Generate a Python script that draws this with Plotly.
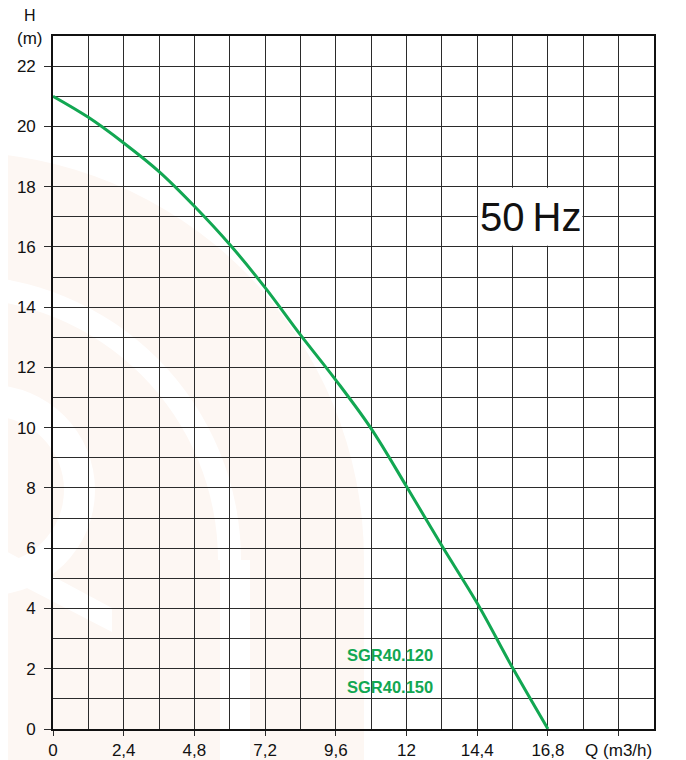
import plotly.graph_objects as go

# ---- data ----
flow_q = [0, 1.2, 2.4, 3.6, 4.8, 6.0, 7.2, 8.4, 9.6, 10.8, 12.0, 13.2, 14.4, 15.6, 16.8]
head_h = [21.0, 20.3, 19.45, 18.5, 17.35, 16.08, 14.65, 13.08, 11.58, 9.97, 8.05, 6.08, 4.17, 2.03, 0.0]

x_tick_vals = [0, 2.4, 4.8, 7.2, 9.6, 12, 14.4, 16.8, 19.2]
x_tick_text = ["0", "2,4", "4,8", "7,2", "9,6", "12", "14,4", "16,8", "Q (m3/h)"]
y_tick_vals = [0, 2, 4, 6, 8, 10, 12, 14, 16, 18, 20, 22]
y_tick_text = [str(v) for v in y_tick_vals]
model_labels = ["SGR40.120", "SGR40.150"]
freq_label = "50\u2009Hz"

GREEN = "#12a752"
GRID = "#2b2b2b"
BEIGE = "#fdf7f3"

# page has an 8px body margin; plot area in page pixels: x 53..654, y 36..729
OFF = 8
W_PX, H_PX = 686 - OFF, 760 - OFF
PL, PR, PT, PB = 53, 654, 36, 729
ML, MT = PL - OFF, PT - OFF
MR = W_PX - (PR - OFF)
MB = H_PX - (PB - OFF)
PW, PH = PR - PL, PB - PT


def px(x):
    return (x - PL) / PW


def py(y):
    return (PB - y) / PH


def circ(cx, cy, r, color):
    return dict(type="circle", xref="paper", yref="paper", layer="below",
                x0=px(cx - r), x1=px(cx + r), y0=py(cy + r), y1=py(cy - r),
                fillcolor=color, line=dict(width=0))


def rect(x0, y0, x1, y1, color):
    return dict(type="rect", xref="paper", yref="paper", layer="below",
                x0=px(x0), x1=px(x1), y0=py(y1), y1=py(y0),
                fillcolor=color, line=dict(width=0))


def poly(points, color):
    path = "M " + " L ".join(f"{px(a)},{py(b)}" for a, b in points) + " Z"
    return dict(type="path", xref="paper", yref="paper", layer="below",
                path=path, fillcolor=color, line=dict(width=0))


shapes = []
# faint watermark logo (decoration)
shapes += [circ(-44, 560, 408, BEIGE), rect(-460, 560, 364, 760, BEIGE)]
shapes += [circ(-44, 560, 285, "white"), rect(-340, 560, 250, 760, "white")]
shapes += [circ(-44, 560, 262, BEIGE), rect(-320, 560, 220, 760, BEIGE)]
shapes += [circ(-10, 490, 105, "white"), circ(-10, 490, 74, BEIGE)]
shapes += [poly([(0, 548), (112, 608), (112, 632), (0, 574)], "white")]

# white box behind the 50Hz label
shapes.append(dict(type="rect", xref="x", yref="y", layer="between",
                   x0=14.43, x1=17.97, y0=16.04, y1=17.96,
                   fillcolor="white", line=dict(width=0)))

fig = go.Figure()
fig.add_trace(go.Scatter(
    x=flow_q, y=head_h, mode="lines",
    line=dict(color=GREEN, width=3, shape="spline", smoothing=1.0),
    hoverinfo="skip", showlegend=False,
))

annotations = [
    dict(text="H", xref="paper", yref="paper", x=px(30), y=py(15),
         showarrow=False, font=dict(size=16, color="#111"), xanchor="center", yanchor="middle"),
    dict(text="(m)", xref="paper", yref="paper", x=px(29), y=py(39),
         showarrow=False, font=dict(size=17, color="#111"), xanchor="center", yanchor="middle"),
    dict(text=freq_label, xref="x", yref="y", x=16.2, y=17.0, showarrow=False,
         font=dict(size=40, color="#111"), xanchor="center", yanchor="middle"),
    dict(text=f"<b>{model_labels[0]}</b>", xref="x", yref="y", x=11.44, y=2.46, showarrow=False,
         font=dict(size=16.5, color=GREEN), xanchor="center", yanchor="middle"),
    dict(text=f"<b>{model_labels[1]}</b>", xref="x", yref="y", x=11.44, y=1.39, showarrow=False,
         font=dict(size=16.5, color=GREEN), xanchor="center", yanchor="middle"),
]

fig.update_layout(
    width=W_PX, height=H_PX,
    margin=dict(l=ML, r=MR, t=MT, b=MB, pad=0, autoexpand=False),
    paper_bgcolor="white", plot_bgcolor="rgba(0,0,0,0)",
    font=dict(family="Liberation Sans, Arial, sans-serif", size=17, color="#111"),
    shapes=shapes, annotations=annotations, showlegend=False,
)

fig.update_xaxes(
    range=[0, 20.4], tickmode="array", tickvals=x_tick_vals, ticktext=x_tick_text,
    ticks="outside", ticklen=5, tickwidth=1.3, tickcolor=GRID,
    showgrid=True, gridcolor=GRID, gridwidth=1.3,
    minor=dict(tick0=0, dtick=1.2, showgrid=True, gridcolor=GRID, gridwidth=1.3, ticks=""),
    showline=True, linecolor="#111", linewidth=1.6, mirror=True,
    zeroline=False, tickfont=dict(size=17, color="#111"), ticklabelstandoff=0,
    automargin=False,
)
fig.update_yaxes(
    range=[0, 23], tickmode="array", tickvals=y_tick_vals, ticktext=y_tick_text,
    ticks="outside", ticklen=7, tickwidth=1.3, tickcolor=GRID,
    showgrid=True, gridcolor=GRID, gridwidth=1.3,
    minor=dict(tick0=0, dtick=1, showgrid=True, gridcolor=GRID, gridwidth=1.3, ticks=""),
    showline=True, linecolor="#111", linewidth=1.6, mirror=True,
    zeroline=False, tickfont=dict(size=17, color="#111"), ticklabelstandoff=5,
    automargin=False,
)

fig.write_html("out.html")
